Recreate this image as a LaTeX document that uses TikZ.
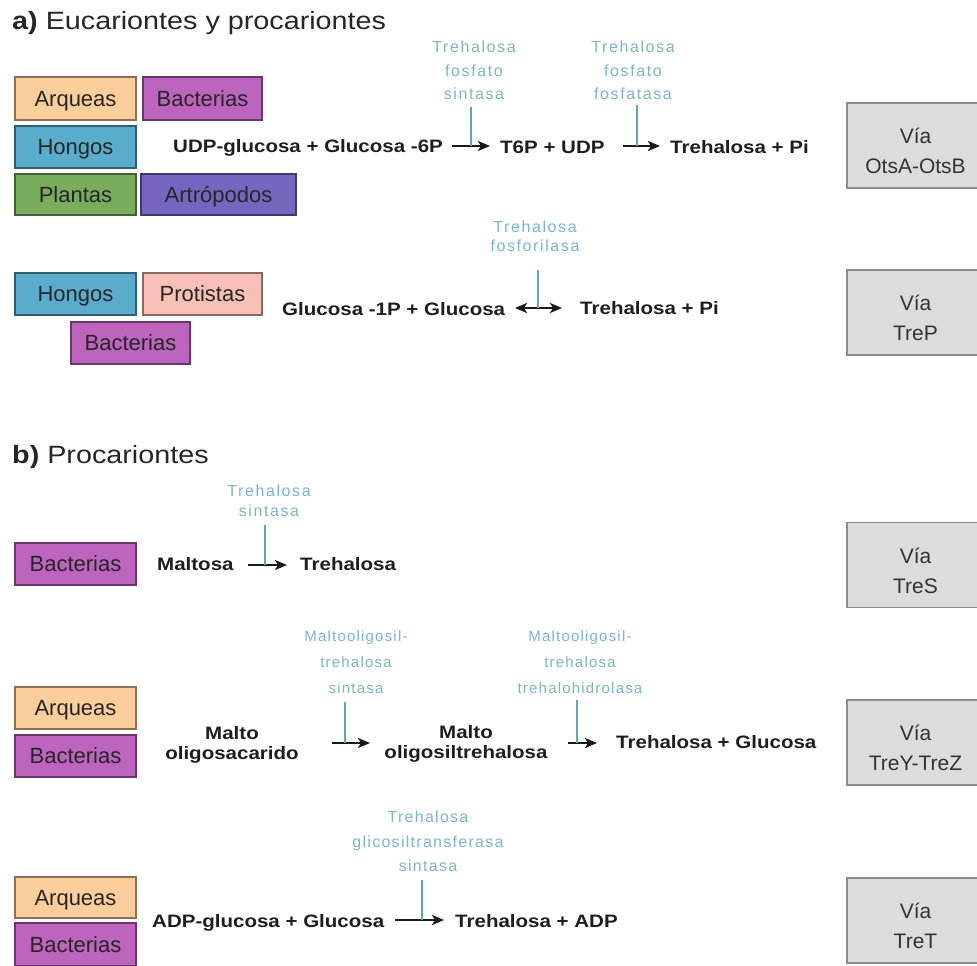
\documentclass[tikz,border=0pt]{standalone}
\usepackage{fontspec}
\setmainfont{Liberation Sans}
\newfontfamily\titlefont[FakeStretch=1.15]{Liberation Sans}
\newfontfamily\rxfont[FakeStretch=1.14]{Liberation Sans}
\newfontfamily\enzA[LetterSpace=10]{Liberation Sans}
\newfontfamily\enzB[LetterSpace=8]{Liberation Sans}
\usetikzlibrary{arrows.meta}
\definecolor{arq}{RGB}{251,206,155}
\definecolor{bac}{RGB}{188,100,190}
\definecolor{hon}{RGB}{90,172,205}
\definecolor{pla}{RGB}{121,172,92}
\definecolor{art}{RGB}{118,102,192}
\definecolor{pro}{RGB}{248,192,182}
\definecolor{viafill}{RGB}{220,220,220}
\definecolor{viadraw}{RGB}{140,140,140}
\definecolor{enztxt}{RGB}{125,182,200}
\definecolor{enzcol}{RGB}{100,165,185}
\definecolor{rxtxt}{RGB}{30,30,30}
\newcommand{\viastrut}{\rule{0pt}{27pt}}
\tikzset{
  org/.style={draw=#1!55!black, fill=#1, line width=1.2pt, minimum height=42pt,
    inner sep=0pt, text height=15.8pt, text depth=0pt,
    font=\fontsize{22}{26}\selectfont, text=black!85},
  via/.style={draw=viadraw, fill=viafill, line width=1.5pt, minimum width=137pt,
    minimum height=85pt, align=center, inner sep=0pt,
    font=\fontsize{21}{30}\selectfont, text=black!80},
  rx/.style={inner sep=0pt, anchor=base west, text=rxtxt,
    font=\rxfont\bfseries\fontsize{18}{20}\selectfont},
  rxc/.style={inner sep=0pt, align=center, text=rxtxt,
    font=\rxfont\bfseries\fontsize{18}{20}\selectfont},
  ttl/.style={inner sep=0pt, anchor=base west, text=black!85,
    font=\titlefont\fontsize{25}{30}\selectfont},
  enz/.style={inner sep=0pt, anchor=south, align=center, text=enztxt},
  tip/.style={},
  rxarrow/.style={line width=2.4pt, draw=black!90, -{Stealth[length=12pt,width=10pt,inset=3pt]}},
  rxboth/.style={line width=2.4pt, draw=black!90, {Stealth[length=12pt,width=10pt,inset=3pt]}-{Stealth[length=12pt,width=10pt,inset=3pt]}},
  enzl/.style={line width=1.3pt, draw=enzcol}
}
\begin{document}
\begin{tikzpicture}[x=1pt,y=-1pt]
\useasboundingbox (0,0) rectangle (977,966);
\fill[white] (0,0) rectangle (977,966);

% ---------- a) ----------
\node[ttl] (ta) at (12,30) {\textbf{a)} Eucariontes y procariontes};

\node[org=arq, minimum width=121pt, minimum height=43pt] (arq1) at (75.5,98.5) {Arqueas};
\node[org=bac, minimum width=119pt, minimum height=43pt] (bac1) at (202.5,98.5) {Bacterias};
\node[org=hon, minimum width=121pt] (hon1) at (75.5,147) {Hongos};
\node[org=pla, minimum width=121pt, minimum height=41pt] (pla1) at (75.5,194.5) {Plantas};
\node[org=art, minimum width=155pt, minimum height=41pt] (art1) at (218.5,194.5) {Artrópodos};

\node[rx] (r1a) at (173,152) {UDP-glucosa + Glucosa -6P};
\node[rx] (r1b) at (500,153) {T6P + UDP};
\node[rx] (r1c) at (670,153) {Trehalosa + Pi};
\coordinate (a1s) at (452,146); \coordinate (a1e) at (490,146);
\coordinate (a2s) at (623,146); \coordinate (a2e) at (660,146);
\draw[rxarrow] (a1s) -- (a1e);
\draw[rxarrow] (a2s) -- (a2e);
\node[enz, font=\enzA\fontsize{16}{23.5}\selectfont] (e1) at (474,100) {Trehalosa\\fosfato\\sintasa};
\node[enz, font=\enzA\fontsize{16}{23.5}\selectfont] (e2) at (633,100) {Trehalosa\\fosfato\\fosfatasa};
\coordinate (l1t) at (471,107); \coordinate (l1b) at (471,146);
\coordinate (l2t) at (637,105); \coordinate (l2b) at (637,146);
\draw[enzl] (l1t) -- (l1b);
\draw[enzl] (l2t) -- (l2b);
\node[via] (v1) at (915.5,145.5) {\viastrut Vía\\OtsA-OtsB};

\node[org=hon, minimum width=121pt] (hon2) at (75.5,294) {Hongos};
\node[org=pro, minimum width=119pt] (pro2) at (202.5,294) {Protistas};
\node[org=bac, minimum width=119pt] (bac2) at (130.5,343) {Bacterias};
\node[rx] (r2a) at (282,315) {Glucosa -1P + Glucosa};
\node[rx] (r2b) at (580,314) {Trehalosa + Pi};
\coordinate (a3s) at (515,308); \coordinate (a3e) at (562,308);
\draw[rxboth] (a3s) -- (a3e);
\node[enz, font=\enzA\fontsize{16}{19}\selectfont] (e3) at (535,252) {Trehalosa\\fosforilasa};
\coordinate (l3t) at (538,270); \coordinate (l3b) at (538,308);
\draw[enzl] (l3t) -- (l3b);
\node[via] (v2) at (915.5,312.5) {\viastrut Vía\\TreP};

% ---------- b) ----------
\node[ttl] (tb) at (12,463) {\textbf{b)} Procariontes};

\node[org=bac, minimum width=121pt] (bac3) at (75.5,564) {Bacterias};
\node[rx] (r3a) at (157,570) {Maltosa};
\node[rx] (r3b) at (300,570) {Trehalosa};
\coordinate (a4s) at (248,565); \coordinate (a4e) at (287,565);
\draw[rxarrow] (a4s) -- (a4e);
\node[enz, font=\enzA\fontsize{16}{20}\selectfont] (e4) at (269,517) {Trehalosa\\sintasa};
\coordinate (l4t) at (265,525); \coordinate (l4b) at (265,565);
\draw[enzl] (l4t) -- (l4b);
\node[via] (v3) at (915.5,565) {\viastrut Vía\\TreS};

\node[org=arq, minimum width=121pt] (arq4) at (75.5,708) {Arqueas};
\node[org=bac, minimum width=121pt] (bac4) at (75.5,756) {Bacterias};
\node[rxc] (r4a) at (232,745) {Malto\\oligosacarido};
\node[rxc] (r4b) at (466,743.5) {Malto\\oligosiltrehalosa};
\node[rx] (r4c) at (616,748) {Trehalosa + Glucosa};
\coordinate (a5s) at (332,743); \coordinate (a5e) at (370,743);
\coordinate (a6s) at (568,743); \coordinate (a6e) at (597,743);
\draw[rxarrow] (a5s) -- (a5e);
\draw[rxarrow] (a6s) -- (a6e);
\node[enz, font=\enzB\fontsize{15}{26}\selectfont] (e5) at (356,694) {Maltooligosil-\\trehalosa\\sintasa};
\node[enz, font=\enzB\fontsize{15}{26}\selectfont] (e6) at (580,694) {Maltooligosil-\\trehalosa\\trehalohidrolasa};
\coordinate (l5t) at (345,702); \coordinate (l5b) at (345,743);
\coordinate (l6t) at (577,700); \coordinate (l6b) at (577,743);
\draw[enzl] (l5t) -- (l5b);
\draw[enzl] (l6t) -- (l6b);
\node[via] (v4) at (915.5,742.5) {\viastrut Vía\\TreY-TreZ};

\node[org=arq, minimum width=121pt, minimum height=41pt] (arq5) at (75.5,897.5) {Arqueas};
\node[org=bac, minimum width=121pt, minimum height=43pt] (bac5) at (75.5,944.5) {Bacterias};
\node[rx] (r5a) at (152,927) {ADP-glucosa + Glucosa};
\node[rx] (r5b) at (455,927) {Trehalosa + ADP};
\coordinate (a7s) at (395,920); \coordinate (a7e) at (444,920);
\draw[rxarrow] (a7s) -- (a7e);
\node[enz, font=\enzB\fontsize{16}{24.5}\selectfont] (e7) at (428,872) {Trehalosa\\glicosiltransferasa\\sintasa};
\coordinate (l7t) at (422,880); \coordinate (l7b) at (422,920);
\draw[enzl] (l7t) -- (l7b);
\node[via] (v5) at (915.5,920.5) {\viastrut Vía\\TreT};
\end{tikzpicture}
\end{document}
